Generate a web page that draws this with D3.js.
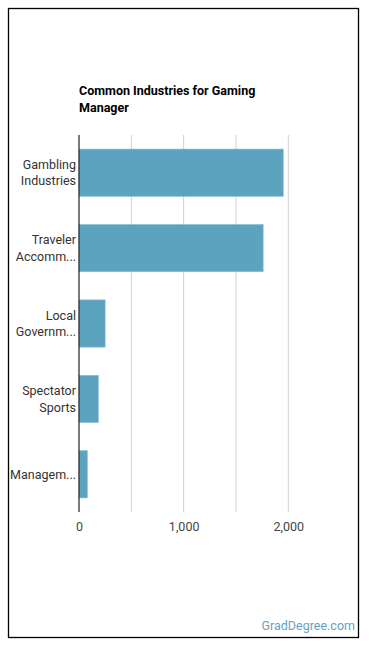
<!DOCTYPE html>
<html>
<head>
<meta charset="utf-8">
<script src="https://d3js.org/d3.v7.min.js"></script>
<style>
  body { margin: 0; background: #fff; font-family: Roboto, "Noto Sans", sans-serif; }
</style>
</head>
<body>
<script>
"use strict";

// Data
var industries = [
  ["Gambling", "Industries"],
  ["Traveler", "Accomm..."],
  ["Local", "Governm..."],
  ["Spectator", "Sports"],
  ["Managem..."]
];
var workers = [1952, 1760, 250, 185, 80];
var xTicks = [0, 1000, 2000];
var gridTicks = [0, 500, 1000, 1500, 2000];

var width = 370, height = 648;
var plot = { left: 79, top: 135, right: 288.3, bottom: 512 };

var svg = d3.select("body").append("svg")
    .attr("width", width)
    .attr("height", height);

// outer frame
svg.append("rect")
    .attr("x", 8.5).attr("y", 8.5)
    .attr("width", 350).attr("height", 629)
    .attr("fill", "#fff")
    .attr("stroke", "#000")
    .attr("stroke-width", 1.3);

// title
svg.append("text")
    .attr("x", 79).attr("y", 95)
    .style("font-size", "12.5px").style("font-weight", "bold").attr("fill", "#000")
    .text("Common Industries for Gaming");
svg.append("text")
    .attr("x", 79).attr("y", 112)
    .style("font-size", "12.5px").style("font-weight", "bold").attr("fill", "#000")
    .text("Manager");

var x = d3.scaleLinear().domain([0, 2000]).range([plot.left, plot.right]);
var y = d3.scaleBand()
    .domain(d3.range(industries.length))
    .range([plot.top, plot.bottom])
    .paddingInner(0.373).paddingOuter(0.1865);

// gridlines
svg.append("g").selectAll("line")
    .data(gridTicks.filter(function(d) { return d > 0; }))
    .enter().append("line")
    .attr("x1", function(d) { return x(d); })
    .attr("x2", function(d) { return x(d); })
    .attr("y1", plot.top).attr("y2", plot.bottom)
    .attr("stroke", "#d0d0d0").attr("stroke-width", 1);

// bars
svg.append("g").selectAll("rect")
    .data(workers)
    .enter().append("rect")
    .attr("x", x(0))
    .attr("y", function(d, i) { return y(i); })
    .attr("width", function(d) { return x(d) - x(0); })
    .attr("height", y.bandwidth())
    .attr("fill", "#5ca3c0")
    .attr("stroke", "#8cc0d6").attr("stroke-width", 0.6);

// vertical axis line
svg.append("line")
    .attr("x1", plot.left).attr("x2", plot.left)
    .attr("y1", plot.top).attr("y2", plot.bottom)
    .attr("stroke", "#222").attr("stroke-width", 1.2);

// category labels
var labels = svg.append("g").selectAll("text")
    .data(industries)
    .enter().append("text")
    .attr("text-anchor", "end")
    .style("font-size", "12.5px")
    .attr("fill", "#333")
    .attr("transform", function(d, i) {
      return "translate(76," + (y(i) + y.bandwidth() / 2) + ")";
    });
labels.each(function(lines) {
  var t = d3.select(this);
  var n = lines.length;
  lines.forEach(function(line, k) {
    t.append("tspan")
      .attr("x", 0)
      .attr("y", (k - (n - 1) / 2) * 16.7)
      .attr("dy", "0.35em")
      .text(line);
  });
});

// x-axis tick labels
var xAxis = d3.axisBottom(x)
    .tickValues(xTicks)
    .tickSize(0)
    .tickPadding(10)
    .tickFormat(d3.format(","));
var gx = svg.append("g")
    .attr("transform", "translate(0," + plot.bottom + ")")
    .call(xAxis);
gx.select(".domain").remove();
gx.selectAll("text")
    .style("font-size", "12.5px")
    .style("font-family", "Roboto, sans-serif")
    .attr("fill", "#444");

// source
svg.append("text")
    .attr("x", 355).attr("y", 630)
    .attr("text-anchor", "end")
    .style("font-size", "12.5px")
    .attr("fill", "#6a9fbf")
    .text("GradDegree.com");
</script>
</body>
</html>
